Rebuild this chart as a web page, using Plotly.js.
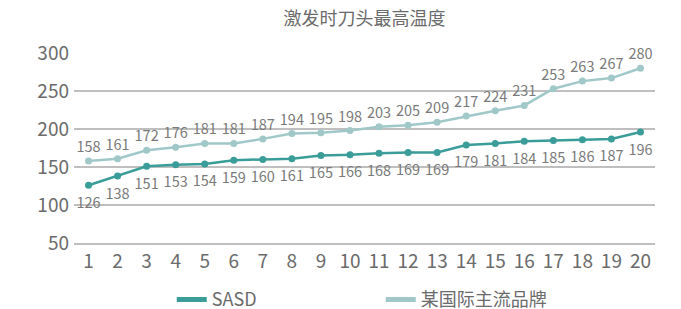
<!DOCTYPE html>
<html><head><meta charset="utf-8">
<script src="https://cdn.plot.ly/plotly-3.0.1.min.js"></script>
<style>html,body{margin:0;padding:0;background:#fff;}#c{width:681px;height:309px;}</style>
</head><body><div id="c"></div>
<script>
const categories = ['1','2','3','4','5','6','7','8','9','10','11','12','13','14','15','16','17','18','19','20'];
const sasd = [126,138,151,153,154,159,160,161,165,166,168,169,169,179,181,184,185,186,187,196];
const intl = [158,161,172,176,181,181,187,194,195,198,203,205,209,217,224,231,253,263,267,280];
const seriesNames = ['SASD','某国际主流品牌'];
const colors = ['#3A9D99','#A0C8C9'];
const FONT = '"Noto Sans CJK SC","Noto Sans",sans-serif';

const traces = [
  {x:categories, y:intl, type:'scatter', mode:'lines+markers+text', name:seriesNames[1], showlegend:false,
   line:{color:colors[1], width:2.5}, marker:{color:colors[1], size:7},
   text:intl.map(String), textposition:'top center', textfont:{family:FONT, size:14.5, color:'#7a7a7a'}, cliponaxis:false},
  {x:categories, y:sasd, type:'scatter', mode:'lines+markers', name:seriesNames[0], showlegend:false,
   line:{color:colors[0], width:2.5}, marker:{color:colors[0], size:7}, cliponaxis:false},
  {x:categories, y:sasd, type:'scatter', mode:'markers+text', name:seriesNames[0], showlegend:false,
   marker:{color:'rgba(0,0,0,0)', size:17},
   text:sasd.map(String), textposition:'bottom center', textfont:{family:FONT, size:14.5, color:'#7a7a7a'}, cliponaxis:false},
  {x:[null], y:[null], type:'scatter', mode:'lines', name:seriesNames[0], line:{color:colors[0], width:5}, showlegend:true},
  {x:[null], y:[null], type:'scatter', mode:'lines', name:seriesNames[1], line:{color:colors[1], width:5}, showlegend:true}
];

const layout = {
  width:681, height:309,
  margin:{l:74, r:26, t:53, b:66, autoexpand:false},
  paper_bgcolor:'#fff', plot_bgcolor:'#fff',
  font:{family:FONT, color:'#6b6b6b'},
  title:{text:'激发时刀头最高温度', xref:'paper', x:0.5, xanchor:'center', yref:'container', y:0.94, yanchor:'middle', font:{family:FONT, size:18, color:'#6b6b6b'}},
  xaxis:{type:'category', range:[-0.5,19.5], showgrid:false, zeroline:false, showline:true, linecolor:'#BFBFBF', linewidth:2, ticks:'',
         tickfont:{family:FONT, size:19, color:'#6b6b6b'}, ticklabelstandoff:0},
  yaxis:{range:[50,300], dtick:50, tick0:0, showgrid:true, gridcolor:'#BFBFBF', gridwidth:2, zeroline:false, showline:false, ticks:'',
         tickfont:{family:FONT, size:19, color:'#6b6b6b'}, ticklabelstandoff:4},
  showlegend:true,
  legend:{orientation:'h', x:0.528, xanchor:'center', yref:'container', y:0.03, yanchor:'middle', font:{family:FONT, size:18, color:'#6b6b6b'},
          entrywidth:164, itemwidth:30, traceorder:'normal'}
};
Plotly.newPlot('c', traces, layout, {displayModeBar:false, staticPlot:true});
</script></body></html>
